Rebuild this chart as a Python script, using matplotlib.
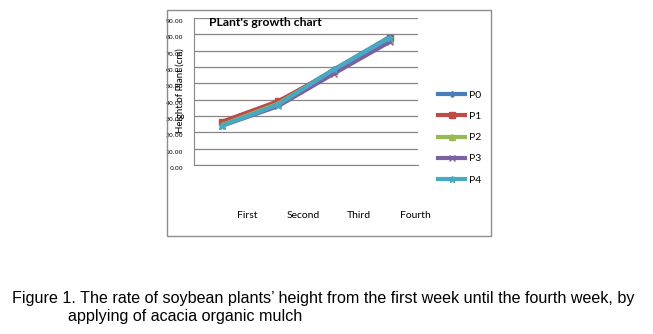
import matplotlib
matplotlib.use("Agg")
import matplotlib.pyplot as plt
import matplotlib.transforms as mtransforms
from matplotlib.lines import Line2D
from matplotlib.patches import Rectangle

categories = ["First", "Second", "Third", "Fourth"]
series_names = ["P0", "P1", "P2", "P3", "P4"]
p0 = [25.0, 38.0, 58.5, 78.5]
p1 = [26.5, 39.0, 57.5, 77.5]
p2 = [24.5, 37.5, 58.0, 76.5]
p3 = [24.0, 36.0, 56.0, 75.5]
p4 = [24.0, 37.0, 58.5, 78.0]
yticks = [0, 10, 20, 30, 40, 50, 60, 70, 80, 90]

colors = ["#4A7EBB", "#BE4B48", "#98B954", "#7D60A0", "#46AAC5"]
markers = ["D", "s", "^", "x", "*"]
msizes = [3, 5, 4, 5, 5]

W, H = 653, 334
fig = plt.figure(figsize=(W / 100, H / 100), dpi=100)
fig.patch.set_facecolor("white")

# outer chart frame
fig.patches.append(Rectangle((167 / W, 1 - 236 / H), (491 - 167) / W, (236 - 10) / H,
                             transform=fig.transFigure, fill=False,
                             edgecolor="#8c8c8c", linewidth=1.0))

ax = fig.add_axes([194 / W, 1 - 165 / H, (418 - 194) / W, (165 - 18) / H])
x = list(range(len(categories)))
for vals, name, c, m, ms in zip([p0, p1, p2, p3, p4], series_names, colors, markers, msizes):
    ax.plot(x, vals, color=c, linewidth=3.0, marker=m, markersize=ms,
            markeredgecolor=c, markerfacecolor=c, label=name, solid_capstyle="round")

ax.set_xlim(-0.5, 3.5)
ax.set_ylim(0, 90)
ax.set_yticks(yticks)
ax.set_yticklabels([f"{v:.2f}" for v in yticks], fontsize=4.5, family="DejaVu Sans")
ax.yaxis.grid(True, color="#868686", linewidth=0.9)
ax.set_axisbelow(True)
for s in ["top", "right"]:
    ax.spines[s].set_visible(False)
ax.spines["left"].set_color("#868686")
ax.spines["bottom"].set_color("#868686")
ax.tick_params(axis="y", length=0, pad=8)
ax.tick_params(axis="x", length=0, pad=33)
ax.set_xticks(x)
ax.set_xticklabels(categories, fontsize=7.5, family="Lato")

off_y = mtransforms.ScaledTranslation(0, -3 / 100, fig.dpi_scale_trans)
for lbl in ax.get_yticklabels():
    lbl.set_transform(lbl.get_transform() + off_y)
off_x = mtransforms.ScaledTranslation(25 / 100, 0, fig.dpi_scale_trans)
for lbl in ax.get_xticklabels():
    lbl.set_transform(lbl.get_transform() + off_x)

fig.text(209 / W, 1 - 22 / H, "PLant's growth chart",
         fontsize=8.8, fontweight="bold", family="Lato", va="center", ha="left")
fig.text(180 / W, 1 - 91 / H, "Height of Plant (cm)", rotation=90, fontsize=7,
         family="Lato", va="center", ha="center")

handles = [Line2D([0], [0], color=c, linewidth=3.0, marker=m, markersize=ms,
                  markeredgecolor=c, markerfacecolor=c)
           for c, m, ms in zip(colors, markers, msizes)]
fig.legend(handles, series_names, loc="upper left",
           bbox_to_anchor=(429 / W, 1 - 81 / H), frameon=False,
           handlelength=2.6, handletextpad=0.3,
           labelspacing=1.15, prop={"family": "Lato", "size": 7.5})

fig.text(12 / W, 1 - 298 / H,
         "Figure 1. The rate of soybean plants\u2019 height from the first week until the fourth week, by",
         fontsize=11.6, family="Liberation Sans", va="center", ha="left")
fig.text(68 / W, 1 - 317 / H, "applying of acacia organic mulch",
         fontsize=11.6, family="Liberation Sans", va="center", ha="left")

fig.savefig("out.png", dpi=100)
